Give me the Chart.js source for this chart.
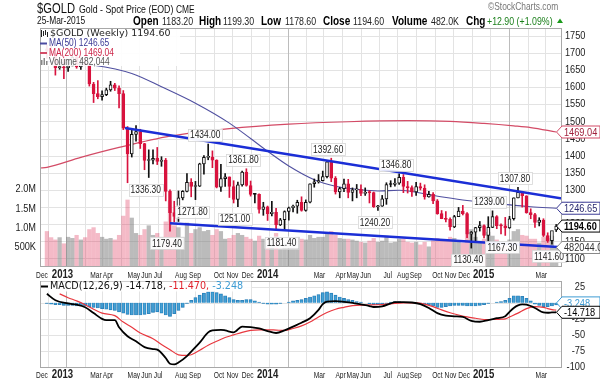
<!DOCTYPE html>
<html>
<head>
<meta charset="utf-8">
<script src="https://cdn.jsdelivr.net/npm/chart.js@4.4.1/dist/chart.umd.min.js"></script>
<style>
html,body{margin:0;padding:0;background:#fff;overflow:hidden}
#wrap{position:relative;width:600px;height:379px;background:#fff}
canvas{position:absolute;left:0;display:block}
</style>
</head>
<body>
<div id="wrap">
<canvas id="main" width="600" height="280" style="top:0;width:600px;height:280px"></canvas>
<canvas id="macd" width="600" height="99" style="top:280px;width:600px;height:99px"></canvas>
</div>
<script>
// ---------- DATA (weekly bars, week 0 = week of 3-Dec-2012) ----------
const opens = [1712,1705,1696,1657,1659,1656,1662,1687,1659,1667,
 1666,1609,1581,1572,1578,1592,1607,1597,1581,1480,
 1405,1462,1470,1435,1386,1387,1392,1383,1387,1296,
 1234,1223,1277,1296,1322,1310,1311,1376,1395,1396,
 1387,1308,1333,1338,1310,1272,1315,1352,1313,1287,
 1287,1243,1251,1231,1235,1198,1213,1237,1248,1253,
 1264,1240,1264,1318,1324,1327,1339,1382,1334,1294,
 1304,1318,1293,1300,1302,1290,1293,1292,1251,1253,
 1274,1316,1316,1320,1337,1310,1307,1294,1310,1305,
 1280,1287,1268,1231,1216,1214,1192,1222,1238,1231,
 1171,1177,1190,1196,1167,1191,1222,1196,1195,1189,
 1216,1277,1293,1283,1234,1228,1205,1212,1167,1152,
 1183.2];
const highs = [1723,1723,1698,1668,1693,1679,1694,1697,1685,1684,
 1667,1614,1619,1589,1597,1617,1611,1604,1590,1485,
 1477,1488,1477,1436,1417,1417,1424,1397,1392,1300,
 1267,1297,1298,1348,1333,1325,1378,1400,1434.0,1414,
 1388,1375,1348,1338,1327,1323,1355,1361.8,1326,1290,
 1289,1264,1253,1267,1246,1217,1239,1250,1256,1270,
 1280,1271,1318,1332,1345,1355,1385,1392.6,1339,1308,
 1332,1331,1306,1316,1315,1306,1298,1294,1255,1284,
 1321,1327,1333,1346.8,1345,1325,1312,1322,1320,1315,
 1296,1292,1272,1240,1237,1219,1226,1249,1255,1234,
 1179,1191,1208,1198,1222,1239.0,1225,1201,1220,1223,
 1277,1307.8,1296,1283,1245,1232,1219,1216,1175,1178,
 1199.3];
const lows = [1684,1693,1635,1652,1625,1646,1662,1655,1652,1664,
 1603,1555,1566,1562,1575,1588,1590,1539,1476,1321,
 1396,1442,1421,1359,1336.3,1376,1374,1369,1268,1179.4,
 1207,1208,1271,1294,1280,1271.8,1310,1346,1388,1365,
 1306,1296,1310,1278,1262,1251.0,1311,1311,1282,1262,
 1232,1226,1211,1224,1186,1196,1181.4,1212,1236,1232,
 1238,1238,1262,1308,1320,1326,1335,1324,1288,1277,
 1295,1277,1268,1277,1283,1284,1262,1249,1240.2,1252,
 1258,1309,1311,1316,1292,1291,1281,1284,1300,1273,
 1279,1260,1229,1216,1207,1183,1190,1222,1227,1161,
 1130.4,1150,1180,1160,1148,1190,1187,1172,1167.3,1188,
 1212,1277,1250,1232,1216,1191,1195,1164,1147,1141.6,
 1178.6];
const closes = [1705,1696,1657,1659,1656,1662,1687,1659,1667,1666,
 1609,1581,1572,1578,1592,1607,1597,1581,1480,1405,
 1462,1470,1435,1386,1387,1392,1383,1387,1296,1234,
 1223,1277,1296,1322,1310,1311,1376,1395,1396,1387,
 1308,1333,1338,1310,1272,1315,1352,1313,1287,1287,
 1243,1251,1231,1235,1198,1213,1237,1248,1253,1264,
 1240,1264,1318,1324,1327,1339,1382,1334,1294,1304,
 1318,1293,1300,1302,1290,1293,1292,1251,1253,1274,
 1316,1316,1320,1337,1310,1307,1294,1310,1305,1280,
 1287,1268,1231,1216,1214,1192,1222,1238,1231,1171,
 1177,1190,1196,1167,1191,1222,1196,1195,1189,1216,
 1277,1293,1283,1234,1228,1205,1212,1167,1152,1181.7,
 1194.6];
const volumes = [900000,740000,680000,740000,580000,750000,720000,800000,680000,740000,
 950000,1000000,850000,750000,700000,720000,680000,800000,1300000,1720000,
 1250000,850000,800000,950000,1050000,800000,850000,750000,1150000,1700000,
 1050000,1000000,750000,1120000,850000,950000,1000000,900000,930000,800000,
 950000,900000,700000,720000,800000,850000,800000,750000,700000,650000,
 780000,700000,720000,700000,850000,450000,600000,720000,700000,750000,
 700000,680000,800000,720000,750000,750000,850000,900000,800000,720000,
 700000,700000,680000,650000,620000,600000,650000,720000,620000,650000,
 780000,600000,620000,700000,700000,620000,600000,620000,550000,620000,
 500000,650000,720000,680000,650000,750000,720000,650000,600000,820000,
 950000,750000,650000,700000,880000,780000,680000,500000,550000,680000,
 900000,950000,800000,780000,700000,700000,600000,750000,720000,780000,
 482044];
// moving averages (week, value)
const ma50Weeks  = [0,11,20,27,35,43,48,52,57,63,68,73,78,83,91,99,107,114,120];
const ma50Values = [1675,1664,1640,1601,1553,1495,1450,1413,1370,1330,1311,1302,1297,1299,1284,1269,1259,1251,1246.65];
const ma200Weeks  = [-1.6,0,8,17,29,43,57,71,85,95,103,110,114,120];
const ma200Values = [1364,1366,1395,1424,1457,1479,1492,1499,1502,1500,1494,1487,1482,1469.04];
// trend lines (week, price)
const upperTrendWeeks = [18.4,121.4];
const upperTrendPrices = [1481,1275];
const lowerTrendWeeks = [29,121.4];
const lowerTrendPrices = [1203,1133];
// MACD(12,26,9)
const macdWeeks  = [0,2,5,7,9,11,13,14,16,17,19,21,23,25,26,28,29,30,31,33,34,36,38,39,41,42,44,46,48,50,52,54,56,58,60,62,64,65,66,68,70,72,74,76,77,79,81,82,84,86,88,90,92,94,96,98,100,102,104,106,108,109,110,111,112,113,115,117,118,119,120];
const macdValues = [14,4,-1,-3,-7,-16,-25,-27,-27,-38,-52,-60,-69,-72,-73,-86,-95,-96,-93,-83,-76,-62,-46,-43,-42,-43,-46,-37,-38,-40,-44,-47,-43,-37,-31,-24,-11,-2,2,2.5,1.5,0,-2.5,-5,-6.5,-5.5,-1,1,1,0.5,-2,-8,-16,-20,-21,-22,-28,-29.5,-27,-24,-21,-14,-8,-4,-2.5,-3,-8,-15,-15.5,-15,-14.718];
const signalWeeks  = [3,5,7,9,11,13,16,18,20,22,25,27,29,31,33,34,36,38,40,42,44,46,48,50,52,54,56,58,60,62,64,66,68,70,72,75,78,81,84,87,89,91,93,95,97,99,101,103,105,107,108,109,111,113,115,117,118,119,120];
const signalValues = [14,8,3,-3,-10,-16,-20,-30,-38,-47,-56,-65,-73,-81,-82,-81,-74,-66,-60,-54,-50,-46,-43,-42,-42,-42.5,-43,-40,-36,-30,-22,-15,-10,-7,-4.5,-3.5,-3,-1.5,0,0,-2,-6,-11,-15.5,-19,-22,-24,-26,-26,-25.5,-25,-22,-16,-9,-6,-7,-9,-10.5,-11.47];
const histValues = [-1,-2,-3,-3,-4,-4,-4,-5,-5,-5,
 -6,-7,-8,-9,-10,-11,-12,-14,-16,-18,
 -19,-19,-19,-18,-17,-15,-14,-16,-19,-21,
 -17,-12,-7,-1,4,8,12,15,17,17,
 16,14,11,8,5,4,4,5,5,3,
 1,-1,-2,-2,-2,-1,0,1,3,4,
 5,7,9,11,13,16,17,15,12,9,
 7,5,4,2,1,0,-2,-3,-3,-2,
 -1,1,2,2,1,1,0,0,-1,-2,
 -3,-5,-7,-7,-6,-5,-4,-4,-4,-5,
 -5,-5,-4,-3,-1,0,1,2,4,7,
 11,11,10,7,3,-2,-4,-6,-6,-5,
 -3.248];
// axis ticks and labels
const priceTicks = [1100,1150,1200,1250,1300,1350,1400,1450,1500,1550,1600,1650,1700,1750];
const volumeTicks = [500000,1000000,1500000,2000000];
const volumeTickLabels = ['500K','1.0M','1.5M','2.0M'];
const macdTicks = [25,0,-25,-50,-75,-100];
const monthGridWeeks = [0.16,8.9,13.0,17.45,21.7,26.15,30.45,34.9,39.3,43.6,48.0,52.3,61.15,65.15,69.6,73.9,78.3,82.6,87.0,91.45,95.75,100.15,104.45,113.3,117.3];
const yearGridWeeks = [4.6,56.75,108.9];
const xLabels = ['Dec','2013','Mar','Apr','May','Jun','Jul','Aug','Sep','Oct','Nov','Dec','2014','Mar','Apr','May','Jun','Jul','Aug','Sep','Oct','Nov','Dec','2015','Mar'];
const xLabelWeeks = [-1.15,3.68,11.57,14.4,20.5,23.5,26.2,31.6,34.9,40.55,43.7,47.3,52.0,64.2,69.2,72.1,75.1,80.3,83.9,86.9,92.0,95.1,98.3,102.9,116.5];
// annotated swing highs/lows
const peakWeeks = [38,47,67,83,105,111,24,35,29,45,56,78,100,108,119];
const peakKinds = ['H','H','H','H','H','H','L','L','L','L','L','L','L','L','L'];

// ---------- STYLE ----------
const DJ = '"DejaVu Sans", Verdana, sans-serif';
const LS = '"Liberation Sans", Arial, sans-serif';
const CONDENSE = 0.8;   // Arial-Narrow look
const RED = '#d8133e', BLK = '#111111';
const N = closes.length;
const idx = closes.map((_, i) => i);
const prevClose = i => i > 0 ? closes[i-1] : opens[i];
const lineColor = idx.map(i => closes[i] >= prevClose(i) ? BLK : RED);
const fillColor = idx.map(i => closes[i] > opens[i] ? '#ffffff' : lineColor[i]);
const volColor = idx.map(i => closes[i] >= prevClose(i) ? 'rgba(120,120,120,0.5)' : 'rgba(220,40,80,0.32)');
const X_MIN = -1.626, X_MAX = 121.37;

function txt(ctx, s, x, y, font, color, align, base) {
  ctx.font = font; ctx.fillStyle = color;
  ctx.textAlign = align || 'left'; ctx.textBaseline = base || 'middle';
  ctx.fillText(s, x, y);
}
// condensed text
function ntx(ctx, s, x, y, size, bold, color, align, cond) {
  const c = cond || CONDENSE;
  ctx.save();
  ctx.font = (bold ? 'bold ' : '') + size + 'px ' + LS;
  ctx.fillStyle = color; ctx.textAlign = align || 'left'; ctx.textBaseline = 'middle';
  ctx.translate(x, y); ctx.scale(c, 1);
  ctx.fillText(s, 0, 0);
  ctx.restore();
}
function nwidth(ctx, s, size, bold) {
  ctx.save(); ctx.font = (bold ? 'bold ' : '') + size + 'px ' + LS;
  const w = ctx.measureText(s).width * CONDENSE; ctx.restore(); return w;
}
function hline(ctx, x1, x2, y) { ctx.beginPath(); ctx.moveTo(x1, y); ctx.lineTo(x2, y); ctx.stroke(); }
function vline(ctx, x, y1, y2) { ctx.beginPath(); ctx.moveTo(x, y1); ctx.lineTo(x, y2); ctx.stroke(); }
function tag(ctx, y, s, stroke, color, bold) {
  ctx.save();
  ctx.beginPath();
  ctx.moveTo(556.5, y); ctx.lineTo(562, y - 6); ctx.lineTo(600, y - 6);
  ctx.lineTo(600, y + 6); ctx.lineTo(562, y + 6); ctx.closePath();
  ctx.fillStyle = '#fff'; ctx.fill();
  ctx.lineWidth = 1; ctx.strokeStyle = stroke; ctx.stroke();
  ntx(ctx, s, 564, y + 0.5, 11.5, bold, color);
  ctx.restore();
}
function gridPlugin(yId, yTicks) {
  return {
    id: 'grid_' + yId,
    beforeDatasetsDraw(chart) {
      const { ctx, chartArea: a, scales } = chart;
      ctx.save(); ctx.lineWidth = 1;
      ctx.strokeStyle = '#e3e3e3';
      yTicks.forEach(v => hline(ctx, a.left, a.right, Math.round(scales[yId].getPixelForValue(v)) + 0.5));
      monthGridWeeks.forEach(w => vline(ctx, Math.round(scales.x.getPixelForValue(w)) + 0.5, a.top, a.bottom));
      ctx.strokeStyle = '#bcbcbc';
      yearGridWeeks.forEach(w => vline(ctx, Math.round(scales.x.getPixelForValue(w)) + 0.5, a.top, a.bottom));
      ctx.restore();
    },
    afterDatasetsDraw(chart) {
      const { ctx, chartArea: a } = chart;
      ctx.save(); ctx.strokeStyle = '#a8a8a8'; ctx.lineWidth = 1;
      ctx.strokeRect(Math.round(a.left) + 0.5, Math.round(a.top) + 0.5, Math.round(a.right - a.left) - 1, Math.round(a.bottom - a.top));
      ctx.restore();
    }
  };
}
function drawXLabels(chart, y) {
  const { ctx, scales } = chart;
  xLabels.forEach((s, k) => {
    const bold = /^\d{4}$/.test(s);
    if (bold) ntx(ctx, s, scales.x.getPixelForValue(xLabelWeeks[k]), y, 12, true, '#222', 'center', 0.8);
    else ntx(ctx, s, scales.x.getPixelForValue(xLabelWeeks[k]), y, 9.5, false, '#222', 'center', 0.7);
  });
}

// ---------- MAIN PRICE CHART ----------
const mainPlugin = {
  id: 'mainDeco',
  afterDatasetsDraw(chart) {
    const { ctx, scales } = chart;
    ctx.save();
    // swing labels
    peakWeeks.forEach((w, k) => {
      const hi = peakKinds[k] === 'H';
      const v = hi ? highs[w] : lows[w];
      const s = v.toFixed(2);
      const x = scales.x.getPixelForValue(w) - 3;
      const y = scales.y.getPixelForValue(v) + (hi ? -9 : 12);
      const tw = nwidth(ctx, s, 10.5, false);
      ctx.fillStyle = 'rgba(255,255,255,0.95)';
      ctx.fillRect(x - tw / 2 - 2, y - 6, tw + 4, 12);
      ctx.strokeStyle = '#d6d6d6'; ctx.lineWidth = 0.8;
      ctx.strokeRect(Math.round(x - tw / 2 - 2) + 0.5, Math.round(y - 6) + 0.5, Math.round(tw + 4), 12);
      ntx(ctx, s, x, y + 0.5, 10.5, false, '#222', 'center');
    });
    // legend box
    ctx.fillStyle = 'rgba(255,255,255,0.9)';
    ctx.fillRect(41, 29, 139, 37);
    ctx.strokeStyle = '#222'; ctx.lineWidth = 1;
    vline(ctx, 41.5, 30, 37); vline(ctx, 43.5, 31, 36); vline(ctx, 45.5, 30, 35); vline(ctx, 47.5, 32, 37);
    txt(ctx, '$GOLD (Weekly) ' + closes[N-1].toFixed(2), 50, 34, '9.5px ' + DJ, '#222');
    ctx.lineWidth = 2;
    ctx.strokeStyle = '#4b4ba0'; hline(ctx, 40, 47, 43.5);
    ntx(ctx, 'MA(50) ' + ma50Values[ma50Values.length-1].toFixed(2), 49, 43.5, 10.5, false, '#3a3a95');
    ctx.strokeStyle = '#d34b66'; hline(ctx, 40, 47, 53);
    ntx(ctx, 'MA(200) ' + ma200Values[ma200Values.length-1].toFixed(2), 49, 53, 10.5, false, '#cc2448');
    ctx.fillStyle = '#888';
    ctx.fillRect(41, 60, 1.5, 5); ctx.fillRect(43.5, 58, 1.5, 7); ctx.fillRect(46, 61, 1.5, 4);
    ntx(ctx, 'Volume ' + volumes[N-1].toLocaleString('en-US'), 49, 62.5, 10.5, false, '#555');
    ctx.restore();
  },
  afterDraw(chart) {
    const { ctx, scales } = chart;
    ctx.save();
    // header
    ntx(ctx, '$GOLD', 37, 9, 14, false, '#111');
    ntx(ctx, 'Gold - Spot Price (EOD)', 79, 9.5, 11, false, '#111');
    ntx(ctx, 'CME', 176, 10, 10.5, false, '#111');
    ntx(ctx, '\u00A9StockCharts.com', 488, 7, 10.5, false, '#777');
    ntx(ctx, '25-Mar-2015', 37, 21.5, 10.5, false, '#111');
    const last = N - 1;
    const chg = closes[last] - closes[last - 1];
    const pct = chg / closes[last - 1] * 100;
    const parts = [
      ['Open', 133, true], [opens[last].toFixed(2), 162, false],
      ['High', 199, true], [highs[last].toFixed(2), 223, false],
      ['Low', 261, true], [lows[last].toFixed(2), 285, false],
      ['Close', 323, true], [closes[last].toFixed(2), 353, false],
      ['Volume', 392, true], [(volumes[last] / 1000).toFixed(1) + 'K', 431, false],
      ['Chg', 466, true]
    ];
    parts.forEach(p => ntx(ctx, p[0], p[1], 21.5, p[2] ? 12.5 : 11, p[2], p[2] ? '#000' : '#222'));
    ntx(ctx, '+' + chg.toFixed(2) + ' (+' + pct.toFixed(2) + '%)', 487, 21.5, 11, false, '#1a7f1a');
    ctx.fillStyle = '#1a9a1a';
    ctx.beginPath(); ctx.moveTo(557, 23); ctx.lineTo(563, 23); ctx.lineTo(560, 18.5); ctx.closePath(); ctx.fill();
    // right price axis
    priceTicks.forEach(v => ntx(ctx, String(v), 565, scales.y.getPixelForValue(v), 11.5, false, '#222'));
    // left volume axis
    volumeTicks.forEach((v, k) => ntx(ctx, volumeTickLabels[k], 36, scales.yv.getPixelForValue(v), 11.5, false, '#222', 'right'));
    // x labels
    drawXLabels(chart, 275);
    // value tags
    tag(ctx, scales.y.getPixelForValue(ma200Values[ma200Values.length-1]), ma200Values[ma200Values.length-1].toFixed(2), '#d34b66', '#a0203c', false);
    tag(ctx, scales.y.getPixelForValue(ma50Values[ma50Values.length-1]), ma50Values[ma50Values.length-1].toFixed(2), '#3a3a95', '#2a2a70', false);
    tag(ctx, scales.yv.getPixelForValue(volumes[last]), volumes[last].toFixed(1), '#888', '#333', false);
    tag(ctx, scales.y.getPixelForValue(closes[last]), closes[last].toFixed(2), '#000', '#000', true);
    ctx.restore();
  }
};

new Chart(document.getElementById('main'), {
  type: 'bar',
  data: {
    datasets: [
      { type: 'bar', yAxisID: 'yv', data: idx.map(i => ({ x: i, y: volumes[i] })), backgroundColor: volColor, barThickness: 3.6, grouped: false, order: 10 },
      { type: 'line', yAxisID: 'y', data: ma200Weeks.map((w, k) => ({ x: w, y: ma200Values[k] })), borderColor: '#d34b66', borderWidth: 1.2, pointRadius: 0, cubicInterpolationMode: 'monotone', order: 6 },
      { type: 'line', yAxisID: 'y', data: ma50Weeks.map((w, k) => ({ x: w, y: ma50Values[k] })), borderColor: '#5050a0', borderWidth: 1.1, pointRadius: 0, cubicInterpolationMode: 'monotone', order: 5 },
      { type: 'bar', yAxisID: 'y', data: idx.map(i => ({ x: i, y: [lows[i], highs[i]] })), backgroundColor: lineColor, barThickness: 1, grouped: false, order: 3 },
      { type: 'bar', yAxisID: 'y', data: idx.map(i => ({ x: i, y: [opens[i], closes[i]] })), backgroundColor: fillColor, borderColor: lineColor, borderWidth: 1, borderSkipped: false, barThickness: 3, minBarLength: 1, grouped: false, order: 2 },
      { type: 'line', yAxisID: 'y', data: upperTrendWeeks.map((w, k) => ({ x: w, y: upperTrendPrices[k] })), borderColor: '#1b2ed6', borderWidth: 2.5, pointRadius: 0, order: 1 },
      { type: 'line', yAxisID: 'y', data: lowerTrendWeeks.map((w, k) => ({ x: w, y: lowerTrendPrices[k] })), borderColor: '#1b2ed6', borderWidth: 2.5, pointRadius: 0, order: 1 }
    ]
  },
  options: {
    responsive: false, animation: false, events: [],
    layout: { padding: { left: 40, right: 38, top: 28, bottom: 14 } },
    plugins: { legend: { display: false }, tooltip: { enabled: false } },
    scales: {
      x: { type: 'linear', min: X_MIN, max: X_MAX, display: false, offset: false },
      y: { type: 'linear', min: 1078.1, max: 1772.5, display: false },
      yv: { type: 'linear', min: 0, max: 6200000, display: false }
    }
  },
  plugins: [gridPlugin('y', priceTicks), mainPlugin]
});

// ---------- MACD CHART ----------
const macdPlugin = {
  id: 'macdDeco',
  afterDatasetsDraw(chart) {
    const { ctx } = chart;
    ctx.save();
    ctx.fillStyle = 'rgba(255,255,255,0.88)';
    ctx.fillRect(41, 1.5, 210, 10);
    ctx.strokeStyle = '#000'; ctx.lineWidth = 2; hline(ctx, 41, 48, 6.5);
    let x = 50;
    const segs = [
      ['MACD(12,26,9) ', '#111'],
      [macdValues[macdValues.length-1].toFixed(3) + ', ', '#111'],
      [signalValues[signalValues.length-1].toFixed(3) + ', ', '#e0202a'],
      [histValues[histValues.length-1].toFixed(3), '#3d9bd3']
    ];
    segs.forEach(s => {
      txt(ctx, s[0], x, 6.5, '9.6px ' + DJ, s[1]);
      x += ctx.measureText(s[0]).width;
    });
    ctx.restore();
  },
  afterDraw(chart) {
    const { ctx, scales } = chart;
    ctx.save();
    macdTicks.forEach(v => ntx(ctx, String(v), 585, scales.y.getPixelForValue(v), 11.5, false, '#222', 'right'));
    drawXLabels(chart, 95);
    tag(ctx, scales.y.getPixelForValue(histValues[histValues.length-1]) - 2, histValues[histValues.length-1].toFixed(3), '#3d9bd3', '#3d9bd3', false);
    tag(ctx, scales.y.getPixelForValue(macdValues[macdValues.length-1]), macdValues[macdValues.length-1].toFixed(3), '#000', '#000', false);
    ctx.restore();
  }
};

new Chart(document.getElementById('macd'), {
  type: 'bar',
  data: {
    datasets: [
      { type: 'bar', data: idx.map(i => ({ x: i, y: histValues[i] })), backgroundColor: 'rgba(40,145,205,0.85)', borderColor: 'rgba(30,110,170,0.9)', borderWidth: 0.5, barThickness: 3.2, grouped: false, order: 5 },
      { type: 'line', data: signalWeeks.map((w, k) => ({ x: w, y: signalValues[k] })), borderColor: '#e8383f', borderWidth: 1.2, pointRadius: 0, cubicInterpolationMode: 'monotone', order: 2 },
      { type: 'line', data: macdWeeks.map((w, k) => ({ x: w, y: macdValues[k] })), borderColor: '#000', borderWidth: 1.8, pointRadius: 0, cubicInterpolationMode: 'monotone', order: 1 }
    ]
  },
  options: {
    responsive: false, animation: false, events: [],
    layout: { padding: { left: 40, right: 38, top: 1, bottom: 12 } },
    plugins: { legend: { display: false }, tooltip: { enabled: false } },
    scales: {
      x: { type: 'linear', min: X_MIN, max: X_MAX, display: false, offset: false },
      y: { type: 'linear', min: -100, max: 34, display: false }
    }
  },
  plugins: [gridPlugin('y', macdTicks), macdPlugin]
});
</script>
</body>
</html>
